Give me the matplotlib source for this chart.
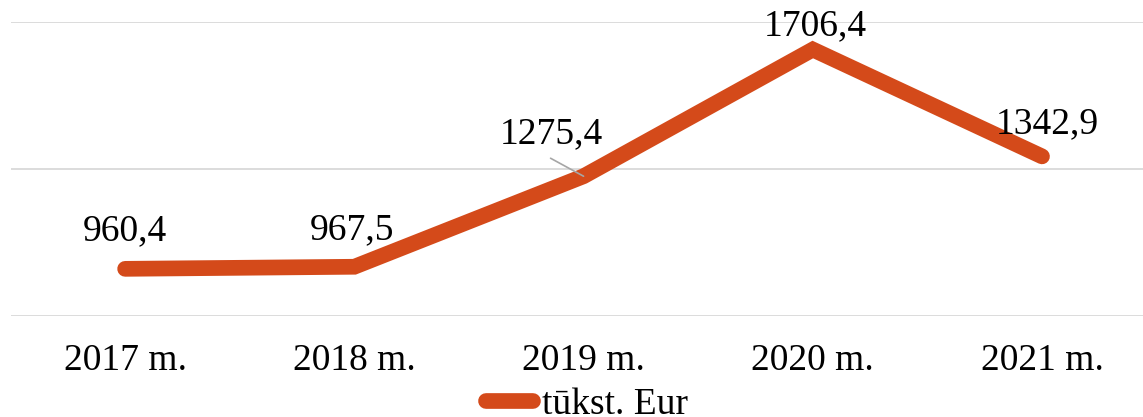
import matplotlib
matplotlib.use("Agg")
import matplotlib.pyplot as plt
from matplotlib.lines import Line2D

categories = ["2017 m.", "2018 m.", "2019 m.", "2020 m.", "2021 m."]
values = [960.4, 967.5, 1275.4, 1706.4, 1342.9]
labels = ["960,4", "967,5", "1275,4", "1706,4", "1342,9"]
series_name = "tūkst. Eur"

W, H = 1143, 417
fig = plt.figure(figsize=(W / 100, H / 100), dpi=100)
plt.rcParams['font.family'] = ['Liberation Serif', 'DejaVu Serif']

left_px, right_px, top_px, bot_px = 10.5, 1143, 22, 316
ax = fig.add_axes([left_px / W, 1 - bot_px / H, (right_px - left_px) / W, (bot_px - top_px) / H])

color = "#D44A1A"
lw = 11.3
x = list(range(len(categories)))
ax.plot(x, values, color=color, lw=lw, solid_capstyle="round", solid_joinstyle="miter", zorder=3)

ax.set_ylim(800, 1800)
ax.set_yticks([800, 1300, 1800])
ax.grid(axis="y", color="#d9d9d9", lw=1.3, zorder=0)
ax.set_xlim(-0.5, (right_px - 125) / 229.25)
for s in ax.spines.values():
    s.set_visible(False)
ax.tick_params(left=False, bottom=False, labelleft=False)
ax.set_xticks(x)
fs = 27
ax.set_xticklabels(categories, fontsize=fs)
ax.tick_params(axis="x", pad=16.5)

# label offsets (pixels), label centre relative to point
offs = [(0, 38), (-2, 37), (-32, 42), (3, 24), (5, 32)]
for i, (v, lab) in enumerate(zip(values, labels)):
    dx, dy = offs[i]
    ax.annotate(lab, (i, v), xytext=(dx, dy), textcoords="offset pixels",
                ha="center", va="center", fontsize=fs, zorder=5)
# leader line for 2019 label
ax.annotate("", xy=(2, values[2]), xytext=(-33, 18), textcoords="offset pixels",
            arrowprops=dict(arrowstyle="-", color="#a6a6a6", lw=1.2, shrinkA=0, shrinkB=0), zorder=4)

handle = Line2D([0], [0], color=color, lw=lw, solid_capstyle="round")
fig.legend([handle], [series_name], loc="center", bbox_to_anchor=(587 / W, 1 - 405 / H),
           frameon=False, fontsize=fs, handlelength=1.26, handletextpad=0.25, borderpad=0)

fig.savefig("out.png", dpi=100)
